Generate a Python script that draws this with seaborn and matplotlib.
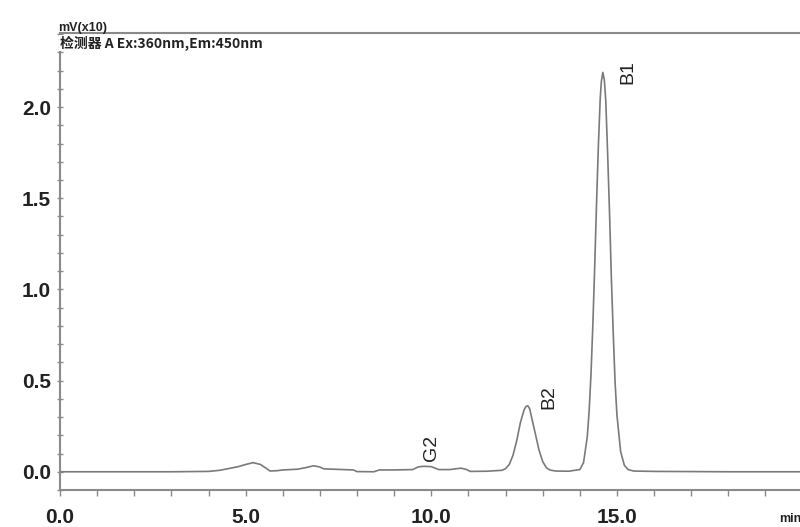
import numpy as np
import pandas as pd
import matplotlib
matplotlib.use("Agg")
import matplotlib.pyplot as plt
from matplotlib.ticker import MultipleLocator, FormatStrFormatter
import seaborn as sns

# Chromatogram trace (retention time in min, signal in mV x10)
time_min = [0.0, 1.0, 2.0, 3.0, 4.0, 4.3, 4.5, 4.8, 5.0, 5.2, 5.4, 5.66, 5.85, 6.0, 6.4,
            6.65, 6.83, 7.0, 7.1, 7.5, 7.9, 8.0, 8.45, 8.6, 9.0, 9.5, 9.65, 9.8, 10.0,
            10.2, 10.5, 10.65, 10.8, 10.95, 11.05, 11.5, 11.9, 12.0, 12.1, 12.2, 12.3,
            12.4, 12.5, 12.55, 12.6, 12.65, 12.7, 12.8, 12.9, 13.0, 13.1, 13.2, 13.35,
            13.7, 14.0, 14.1, 14.2, 14.25, 14.3, 14.35, 14.4, 14.45, 14.5, 14.55, 14.58,
            14.62, 14.66, 14.7, 14.75, 14.8, 14.85, 14.9, 14.95, 15.0, 15.1,
            15.2, 15.3, 15.45, 16.0, 17.0, 18.0, 19.0, 20.0]
signal = [0.0, 0.0, 0.0, 0.0, 0.002, 0.008, 0.016, 0.028, 0.04, 0.05, 0.04, 0.004,
          0.006, 0.01, 0.014, 0.024, 0.033, 0.026, 0.016, 0.013, 0.01, 0.001, 0.0,
          0.01, 0.01, 0.012, 0.027, 0.03, 0.028, 0.012, 0.012, 0.016, 0.02, 0.012,
          0.002, 0.003, 0.008, 0.017, 0.04, 0.09, 0.17, 0.27, 0.34, 0.358, 0.362,
          0.345, 0.30, 0.21, 0.12, 0.056, 0.022, 0.009, 0.004, 0.003, 0.012, 0.05,
          0.19, 0.33, 0.53, 0.80, 1.12, 1.47, 1.79, 2.05, 2.14, 2.19, 2.15, 2.03,
          1.74, 1.42, 1.06, 0.76, 0.49, 0.31, 0.11, 0.035, 0.012, 0.004, 0.002,
          0.001, 0.0, 0.0, 0.0]

peak_names = ["G2", "B2", "B1"]
peak_times = [10.0, 12.57, 14.62]
peak_heights = [0.028, 0.362, 2.19]
peak_offsets_px = [(0, 4), (16, -2), (18, -8)]

x_ticks = [0.0, 5.0, 10.0, 15.0]
y_ticks = [0.0, 0.5, 1.0, 1.5, 2.0]

df = pd.DataFrame({"time": time_min, "signal": signal})

sns.set_style("white")
plt.rcParams["font.family"] = ["Liberation Sans", "Noto Sans CJK SC", "DejaVu Sans"]

fig = plt.figure(figsize=(8.0, 5.27), dpi=100)
ax = fig.add_axes([0.075, 0.0702, 0.925, 0.8668])
trace_col = "#7a7a7a"
sns.lineplot(data=df, x="time", y="signal", ax=ax, color=trace_col, linewidth=1.2)

ax.set_xlim(0, 19.93)
ax.set_ylim(-0.1, 2.405)
ax.set_xlabel("")
ax.set_ylabel("")
ax.set_xticks(x_ticks)
ax.set_yticks(y_ticks)
ax.xaxis.set_major_formatter(FormatStrFormatter("%.1f"))
ax.yaxis.set_major_formatter(FormatStrFormatter("%.1f"))
ax.xaxis.set_minor_locator(MultipleLocator(1.0))
ax.yaxis.set_minor_locator(MultipleLocator(0.1))

for s in ["left", "bottom", "top"]:
    ax.spines[s].set_color("#8a8a8a")
    ax.spines[s].set_linewidth(1.5)
ax.spines["right"].set_visible(False)

ax.tick_params(axis="x", which="both", direction="out", length=4, width=1,
               color="#8a8a8a", bottom=True, labelsize=15, pad=9)
ax.tick_params(axis="y", which="both", direction="inout", length=5, width=1,
               color="#8a8a8a", left=True, labelsize=15, pad=4)
for lab in ax.get_xticklabels() + ax.get_yticklabels():
    lab.set_fontweight("bold")
    lab.set_color("#222222")

for name, t, h, off in zip(peak_names, peak_times, peak_heights, peak_offsets_px):
    ax.annotate(name, xy=(t, h), xytext=off, textcoords="offset points",
                rotation=90, ha="center", va="bottom", fontsize=14, color="#222222")

fig.text(58 / 800, 1 - 28 / 527, "mV(x10)", fontsize=9, fontweight="bold",
         ha="left", va="center", color="#222222")
fig.text(60 / 800, 1 - 43 / 527, "检测器 A Ex:360nm,Em:450nm", fontsize=10,
         fontweight="bold", ha="left", va="center", color="#222222",
         family=["Noto Sans CJK SC", "DejaVu Sans"],
         bbox=dict(facecolor="white", edgecolor="none", pad=0.5))
fig.text(779 / 800, 1 - 519 / 527, "min", fontsize=9, fontweight="bold",
         ha="left", va="center", color="#222222")

fig.savefig("out.png", dpi=100)
